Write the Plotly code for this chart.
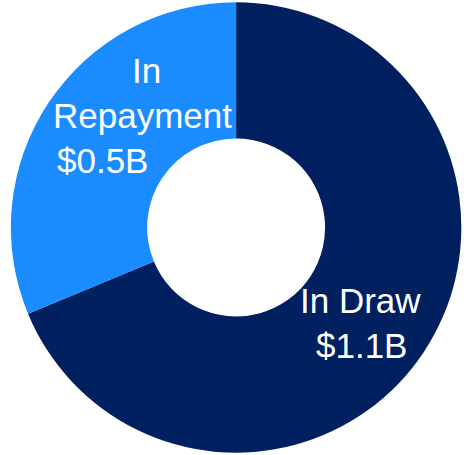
import plotly.graph_objects as go

labels = ["In Draw", "In Repayment"]
values = [1.1, 0.5]  # $B
colors = ["#002060", "#1A8CFF"]

W, H = 476, 455

fig = go.Figure(go.Pie(
    labels=labels,
    values=values,
    hole=0.395,
    sort=False,
    direction="clockwise",
    rotation=0,
    marker=dict(colors=colors, line=dict(width=0)),
    textinfo="none",
    hoverinfo="label+value",
    domain=dict(x=[0.0, 0.992], y=[0.005, 0.995]),
    showlegend=False,
))

font = dict(family="Liberation Sans, Arial, sans-serif", size=35, color="white")


def px(x, y):
    return x / W, 1 - y / H


lines = [
    ("In", 146, 70, "center"),
    ("Repayment", 142, 115, "center"),
    (f"${values[1]:.1f}B", 55, 160, "left"),
    ("In Draw", 360, 300, "center"),
    (f"${values[0]:.1f}B", 361, 345, "center"),
]
annotations = []
for text, x, y, anchor in lines:
    ax, ay = px(x, y)
    annotations.append(dict(text=text, x=ax, y=ay, xref="paper", yref="paper",
                            xanchor=anchor, yanchor="middle", showarrow=False, font=font))

fig.update_layout(
    width=W, height=H,
    margin=dict(l=0, r=0, t=0, b=0),
    paper_bgcolor="white",
    plot_bgcolor="white",
    annotations=annotations,
)

fig.write_html("out.html")
